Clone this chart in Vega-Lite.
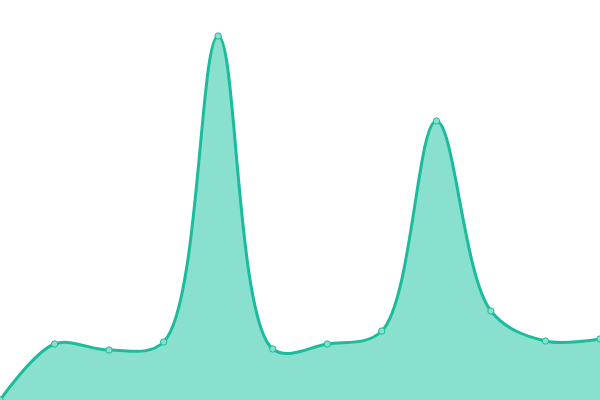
{
  "$schema": "https://vega.github.io/schema/vega-lite/v6.json",
  "width": 600,
  "height": 400,
  "autosize": "none",
  "padding": 0,
  "background": "#ffffff",
  "config": {"view": {"stroke": null}},
  "data": {
    "values": [
      {"i": 0, "v": 0},
      {"i": 1, "v": 56},
      {"i": 2, "v": 50},
      {"i": 3, "v": 58},
      {"i": 4, "v": 364},
      {"i": 5, "v": 51},
      {"i": 6, "v": 56},
      {"i": 7, "v": 69},
      {"i": 8, "v": 279},
      {"i": 9, "v": 89},
      {"i": 10, "v": 59},
      {"i": 11, "v": 61}
    ]
  },
  "encoding": {
    "x": {"field": "i", "type": "quantitative", "axis": null, "scale": {"domain": [0, 11], "nice": false, "zero": false}},
    "y": {"field": "v", "type": "quantitative", "axis": null, "scale": {"domain": [0, 400], "nice": false}}
  },
  "layer": [
    {"mark": {"type": "area", "interpolate": "catmull-rom", "color": "#8ae0cf", "opacity": 1}},
    {"mark": {"type": "line", "interpolate": "catmull-rom", "color": "#1abc9c", "strokeWidth": 3}},
    {"mark": {"type": "point", "filled": true, "fill": "#8ae0cf", "stroke": "#1abc9c", "strokeWidth": 1, "size": 40, "opacity": 1}}
  ]
}
